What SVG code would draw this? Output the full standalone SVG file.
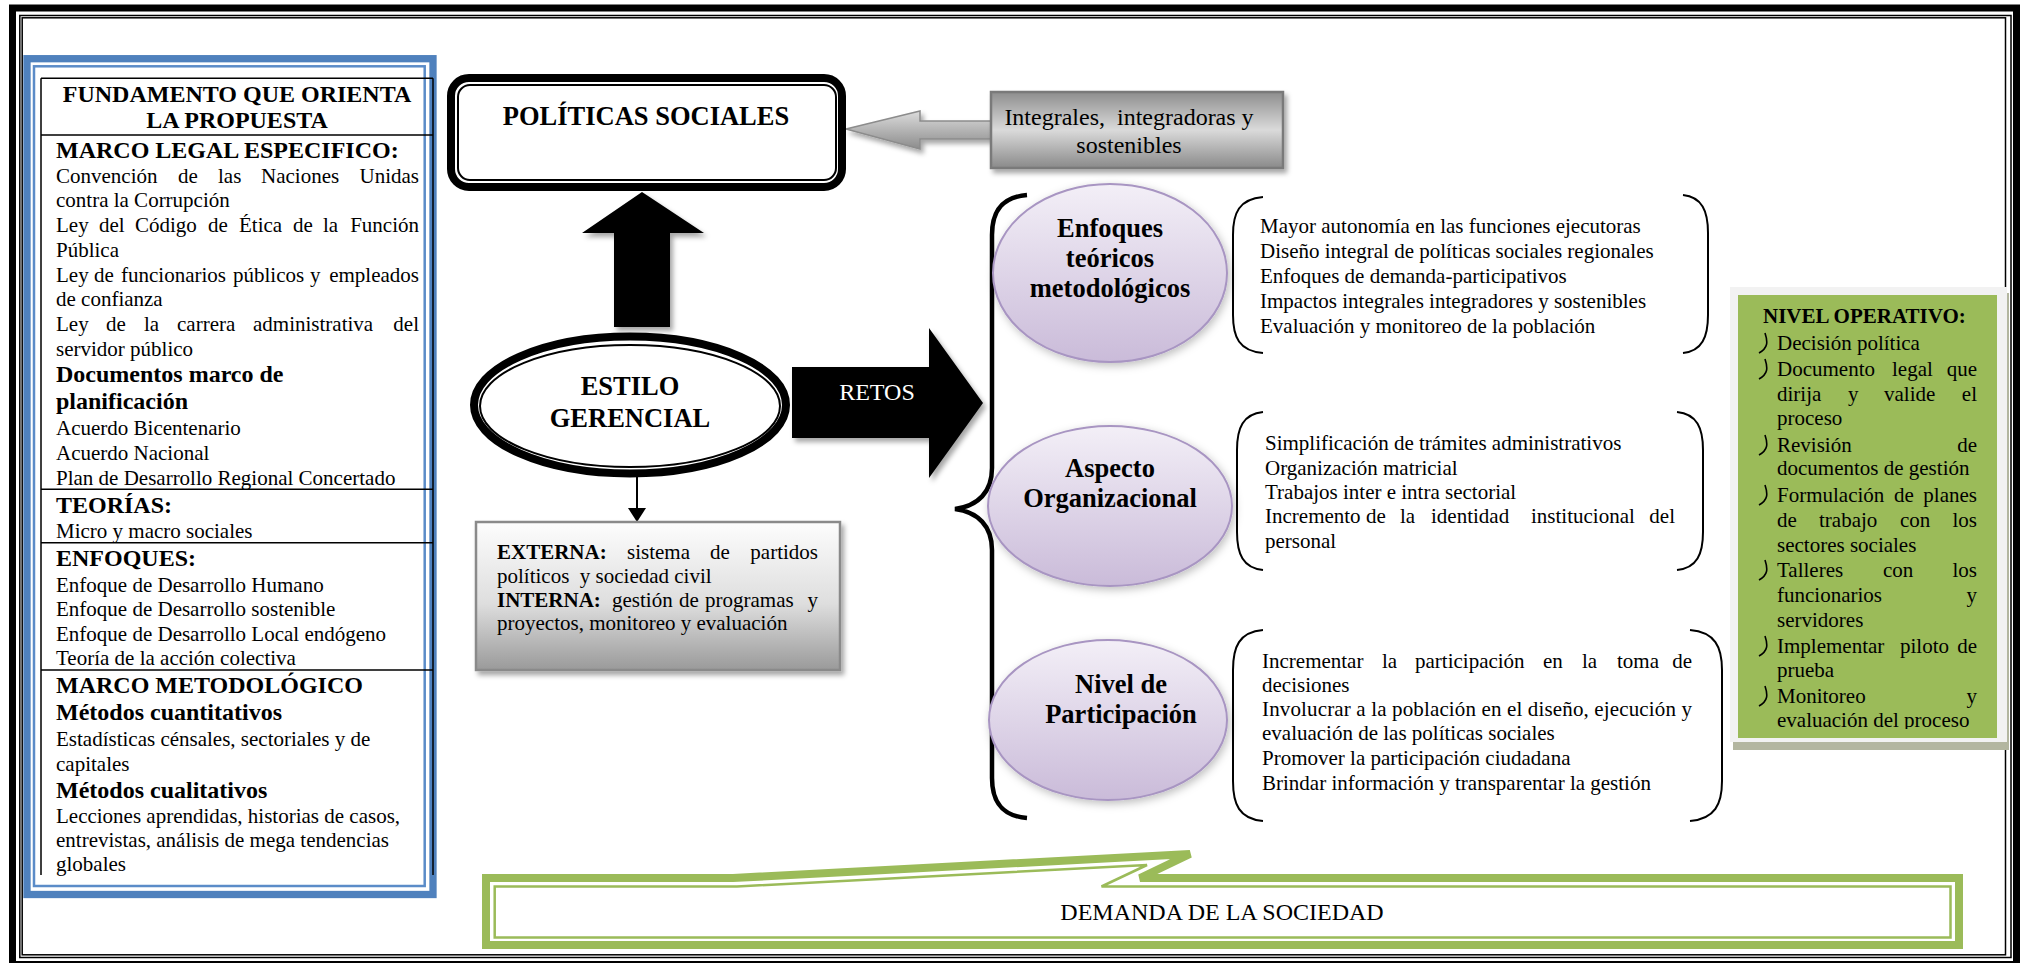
<svg xmlns="http://www.w3.org/2000/svg" width="2024" height="963" viewBox="0 0 2024 963">
<defs>
<style>
text{font-family:"Liberation Serif","Times New Roman",serif;fill:#000}
.b{font-weight:bold}
.r21{font-size:21px}
.b24{font-size:24px;font-weight:bold}
.r24{font-size:24px}
.h26{font-size:26.5px;font-weight:bold}
.c{text-anchor:middle}
.e{text-anchor:end}
.pre{white-space:pre}
.paren{fill:none;stroke:#000;stroke-width:2}
.ell{fill:url(#gPur);stroke:#a895c2;stroke-width:2;filter:url(#soft)}
.tl{stroke:#000;stroke-width:1.5;fill:none}
.bul{fill:none;stroke:#000;stroke-width:1.6}
</style>
<linearGradient id="gPur" x1="0" y1="0" x2="0" y2="1">
<stop offset="0" stop-color="#f3eff7"/><stop offset="1" stop-color="#cabbd9"/>
</linearGradient>
<linearGradient id="gBox" x1="0" y1="0" x2="0" y2="1">
<stop offset="0" stop-color="#8e8e8e"/><stop offset="0.5" stop-color="#dadada"/><stop offset="1" stop-color="#8a8a8a"/>
</linearGradient>
<linearGradient id="gArr" x1="0" y1="0" x2="0" y2="1">
<stop offset="0" stop-color="#dcdcdc"/><stop offset="1" stop-color="#8c8c8c"/>
</linearGradient>
<linearGradient id="gExt" x1="0" y1="0" x2="0" y2="1">
<stop offset="0" stop-color="#fdfdfd"/><stop offset="0.55" stop-color="#dedede"/><stop offset="1" stop-color="#9a9a9a"/>
</linearGradient>
<filter id="sh" x="-10%" y="-10%" width="130%" height="140%">
<feDropShadow dx="3" dy="4" stdDeviation="2.5" flood-color="#000" flood-opacity="0.35"/>
</filter>
<filter id="soft" x="-10%" y="-10%" width="125%" height="130%">
<feDropShadow dx="2" dy="3" stdDeviation="4" flood-color="#000" flood-opacity="0.25"/>
</filter>
<clipPath id="clipOp"><rect x="1738" y="295" width="259" height="434"/></clipPath>
</defs>
<rect width="2024" height="963" fill="#fff"/>

<g id="frame">
<rect x="12.5" y="8" width="2004" height="956.5" fill="none" stroke="#000" stroke-width="7"/>
<rect x="19.8" y="15.5" width="1991.2" height="942" fill="none" stroke="#000" stroke-width="1.5"/>
<rect x="22.2" y="17.8" width="1983.3" height="937" fill="none" stroke="#000" stroke-width="1.5"/>
</g>

<g id="fundamento">
<rect x="27" y="58.7" width="406" height="835.8" fill="#fff" stroke="#4f81bd" stroke-width="7.3"/>
<rect x="34" y="66.3" width="390.7" height="819.7" fill="none" stroke="#5b8cc8" stroke-width="2.5"/>
<path class="tl" d="M41,78.3H433M41,135H433M41,489.3H433M41,542.7H433M41,670H433M41,78.3V875M433,78.3V875"/>
<text class="b24 c" x="237" y="102">FUNDAMENTO QUE ORIENTA</text>
<text class="b24 c" x="237" y="128">LA PROPUESTA</text>
<text class="b24" x="56" y="158">MARCO LEGAL ESPECIFICO:</text>
<text class="r21" y="183"><tspan x="56">Convención</tspan><tspan x="178">de</tspan><tspan x="218">las</tspan><tspan x="261">Naciones</tspan></text>
<text class="r21 e" x="419" y="183">Unidas</text>
<text class="r21" x="56" y="207">contra la Corrupción</text>
<text class="r21" y="232"><tspan x="56">Ley</tspan><tspan x="99">del</tspan><tspan x="135">Código</tspan><tspan x="208">de</tspan><tspan x="239">Ética</tspan><tspan x="293">de</tspan><tspan x="323">la</tspan></text>
<text class="r21 e" x="419" y="232">Función</text>
<text class="r21" x="56" y="257">Pública</text>
<text class="r21" y="282"><tspan x="56">Ley</tspan><tspan x="94">de</tspan><tspan x="121">funcionarios</tspan><tspan x="233">públicos</tspan><tspan x="310">y</tspan></text>
<text class="r21 e" x="419" y="282">empleados</text>
<text class="r21" x="56" y="306">de confianza</text>
<text class="r21" y="331"><tspan x="56">Ley</tspan><tspan x="106">de</tspan><tspan x="144">la</tspan><tspan x="177">carrera</tspan><tspan x="253">administrativa</tspan></text>
<text class="r21 e" x="419" y="331">del</text>
<text class="r21" x="56" y="356">servidor público</text>
<text class="b24" x="56" y="382">Documentos marco de</text>
<text class="b24" x="56" y="409">planificación</text>
<text class="r21" x="56" y="435">Acuerdo Bicentenario</text>
<text class="r21" x="56" y="460">Acuerdo Nacional</text>
<text class="r21" x="56" y="485">Plan de Desarrollo Regional Concertado</text>
<text class="b24" x="56" y="513">TEORÍAS:</text>
<text class="r21" x="56" y="538">Micro y macro sociales</text>
<text class="b24" x="56" y="566">ENFOQUES:</text>
<text class="r21" x="56" y="592">Enfoque de Desarrollo Humano</text>
<text class="r21" x="56" y="616">Enfoque de Desarrollo sostenible</text>
<text class="r21" x="56" y="641">Enfoque de Desarrollo Local endógeno</text>
<text class="r21" x="56" y="665">Teoría de la acción colectiva</text>
<text class="b24" x="56" y="693">MARCO METODOLÓGICO</text>
<text class="b24" x="56" y="720">Métodos cuantitativos</text>
<text class="r21" x="56" y="746">Estadísticas cénsales, sectoriales y de</text>
<text class="r21" x="56" y="771">capitales</text>
<text class="b24" x="56" y="798">Métodos cualitativos</text>
<text class="r21" x="56" y="823">Lecciones aprendidas, historias de casos,</text>
<text class="r21" x="56" y="847">entrevistas, análisis de mega tendencias</text>
<text class="r21" x="56" y="871">globales</text>
</g>

<g id="connectors">
<polygon points="846,129 920,111 920,121 993,121 993,139 920,139 920,149" fill="url(#gArr)" stroke="#8c8c8c" stroke-width="1.5" filter="url(#sh)"/>
<polygon points="642,192 704,233 670,233 670,327 614,327 614,233 582,233" fill="#000" filter="url(#sh)"/>
<polygon points="792,367 929,367 929,328 983,403 929,478 929,438 792,438" fill="#000" filter="url(#sh)"/>
<line x1="637" y1="477" x2="637" y2="510" stroke="#000" stroke-width="2"/>
<polygon points="628,508 646,508 637,522" fill="#000"/>
<path d="M1027,195 C1003,197 992,210 992,235 L992,468 C992,492 978,506 955,509 C978,512 992,526 992,550 L992,778 C992,803 1003,816 1027,818" fill="none" stroke="#000" stroke-width="4.5"/>
</g>

<g id="politicas">
<rect x="451" y="78" width="391" height="109" rx="18" fill="#fff" stroke="#000" stroke-width="8"/>
<rect x="458" y="85" width="378" height="95" rx="12" fill="none" stroke="#000" stroke-width="2"/>
<text class="h26 c" x="646" y="125">POLÍTICAS SOCIALES</text>
</g>

<g id="integrales">
<rect x="991" y="92" width="292" height="76" fill="url(#gBox)" stroke="#7a7a7a" stroke-width="2.5" filter="url(#sh)"/>
<text class="r24 c pre" x="1129" y="125">Integrales,  integradoras y</text>
<text class="r24 c" x="1129" y="153">sostenibles</text>
</g>

<g id="estilo">
<ellipse cx="630" cy="405" rx="156" ry="68.5" fill="#fff" stroke="#000" stroke-width="8"/>
<ellipse cx="630" cy="406" rx="150" ry="61" fill="none" stroke="#000" stroke-width="2"/>
<text class="h26 c" x="630" y="395">ESTILO</text>
<text class="h26 c" x="630" y="427">GERENCIAL</text>
</g>

<g id="retos">
<text class="r24 c" x="877" y="400" style="fill:#fff">RETOS</text>
</g>

<g id="externa">
<rect x="476" y="522" width="364" height="148" fill="url(#gExt)" stroke="#8a8a8a" stroke-width="2.5" filter="url(#sh)"/>
<text class="r21" y="559"><tspan x="497" font-weight="bold">EXTERNA:</tspan><tspan x="627">sistema</tspan><tspan x="710">de</tspan></text>
<text class="r21 e" x="818" y="559">partidos</text>
<text class="r21 pre" x="497" y="583">políticos  y sociedad civil</text>
<text class="r21" y="607"><tspan x="497" font-weight="bold">INTERNA:</tspan><tspan x="612">gestión</tspan><tspan x="679">de</tspan><tspan x="705">programas</tspan></text>
<text class="r21 e" x="818" y="607">y</text>
<text class="r21" x="497" y="630">proyectos, monitoreo y evaluación</text>
</g>

<g id="enfoques">
<ellipse class="ell" cx="1110" cy="273" rx="117" ry="89"/>
<text class="h26 c" x="1110" y="237">Enfoques</text>
<text class="h26 c" x="1110" y="267">teóricos</text>
<text class="h26 c" x="1110" y="297">metodológicos</text>
</g>

<g id="enfoques-items">
<path class="paren" d="M1263,197 C1239,199 1233,213 1233,235 L1233,315 C1233,337 1239,351 1263,353"/>
<path class="paren" d="M1683,195 C1702,197 1708,211 1708,233 L1708,315 C1708,337 1702,351 1683,353"/>
<text class="r21" x="1260" y="233">Mayor autonomía en las funciones ejecutoras</text>
<text class="r21" x="1260" y="258">Diseño integral de políticas sociales regionales</text>
<text class="r21" x="1260" y="283">Enfoques de demanda-participativos</text>
<text class="r21" x="1260" y="308">Impactos integrales integradores y sostenibles</text>
<text class="r21" x="1260" y="333">Evaluación y monitoreo de la población</text>
</g>

<g id="aspecto">
<ellipse class="ell" cx="1110" cy="506" rx="122" ry="80"/>
<text class="h26 c" x="1110" y="477">Aspecto</text>
<text class="h26 c" x="1110" y="507">Organizacional</text>
</g>

<g id="aspecto-items">
<path class="paren" d="M1263,412 C1243,414 1237,428 1237,450 L1237,532 C1237,554 1243,568 1263,570"/>
<path class="paren" d="M1677,412 C1697,414 1703,428 1703,450 L1703,532 C1703,554 1697,568 1677,570"/>
<text class="r21" x="1265" y="450">Simplificación de trámites administrativos</text>
<text class="r21" x="1265" y="475">Organización matricial</text>
<text class="r21" x="1265" y="499">Trabajos inter e intra sectorial</text>
<text class="r21" y="523"><tspan x="1265">Incremento</tspan><tspan x="1366">de</tspan><tspan x="1400">la</tspan><tspan x="1431">identidad</tspan><tspan x="1531">institucional</tspan></text>
<text class="r21 e" x="1675" y="523">del</text>
<text class="r21" x="1265" y="548">personal</text>
</g>

<g id="nivel">
<ellipse class="ell" cx="1108" cy="720" rx="119" ry="80"/>
<text class="h26 c" x="1121" y="693">Nivel de</text>
<text class="h26 c" x="1121" y="723">Participación</text>
</g>

<g id="nivel-items">
<path class="paren" d="M1263,630 C1239,632 1233,647 1233,670 L1233,781 C1233,804 1239,819 1263,821"/>
<path class="paren" d="M1690,630 C1715,632 1722,647 1722,670 L1722,781 C1722,804 1715,819 1690,821"/>
<text class="r21" y="668"><tspan x="1262">Incrementar</tspan><tspan x="1382">la</tspan><tspan x="1415">participación</tspan><tspan x="1543">en</tspan><tspan x="1582">la</tspan><tspan x="1617">toma</tspan></text>
<text class="r21 e" x="1692" y="668">de</text>
<text class="r21" x="1262" y="692">decisiones</text>
<text class="r21" x="1262" y="716" textLength="430" lengthAdjust="spacing">Involucrar a la población en el diseño, ejecución y</text>
<text class="r21" x="1262" y="740">evaluación de las políticas sociales</text>
<text class="r21" x="1262" y="765">Promover la participación ciudadana</text>
<text class="r21" x="1262" y="790">Brindar información y transparentar la gestión</text>
</g>

<g id="nivel-operativo">
<rect x="1733" y="293" width="276" height="457" fill="#b3b6a0"/>
<rect x="1730" y="287" width="277" height="455" fill="#f2f2f2"/>
<rect x="1738" y="295" width="259" height="443" fill="#9bbb59"/>
<text class="r21 b" x="1763" y="323">NIVEL OPERATIVO:</text>
<path class="bul" d="M1765,333 C1768,342 1768,348 1759,353 M1765,359 C1768,368 1768,374 1759,379 M1765,435 C1768,444 1768,450 1759,455 M1765,485 C1768,494 1768,500 1759,505 M1765,560 C1768,569 1768,575 1759,580 M1765,636 C1768,645 1768,651 1759,656 M1765,686 C1768,695 1768,701 1759,706"/>
<g clip-path="url(#clipOp)">
<text class="r21" x="1777" y="350">Decisión política</text>
<text class="r21" y="376"><tspan x="1777">Documento</tspan><tspan x="1892">legal</tspan></text>
<text class="r21 e" x="1977" y="376">que</text>
<text class="r21" y="401"><tspan x="1777">dirija</tspan><tspan x="1848">y</tspan><tspan x="1884">valide</tspan></text>
<text class="r21 e" x="1977" y="401">el</text>
<text class="r21" x="1777" y="425">proceso</text>
<text class="r21" x="1777" y="452">Revisión</text>
<text class="r21 e" x="1977" y="452">de</text>
<text class="r21" x="1777" y="475">documentos de gestión</text>
<text class="r21" y="502"><tspan x="1777">Formulación</tspan><tspan x="1894">de</tspan></text>
<text class="r21 e" x="1977" y="502">planes</text>
<text class="r21" y="527"><tspan x="1777">de</tspan><tspan x="1819">trabajo</tspan><tspan x="1900">con</tspan></text>
<text class="r21 e" x="1977" y="527">los</text>
<text class="r21" x="1777" y="552">sectores sociales</text>
<text class="r21" y="577"><tspan x="1777">Talleres</tspan><tspan x="1883">con</tspan></text>
<text class="r21 e" x="1977" y="577">los</text>
<text class="r21" x="1777" y="602">funcionarios</text>
<text class="r21 e" x="1977" y="602">y</text>
<text class="r21" x="1777" y="627">servidores</text>
<text class="r21" y="653"><tspan x="1777">Implementar</tspan><tspan x="1900">piloto</tspan></text>
<text class="r21 e" x="1977" y="653">de</text>
<text class="r21" x="1777" y="677">prueba</text>
<text class="r21" x="1777" y="703">Monitoreo</text>
<text class="r21 e" x="1977" y="703">y</text>
<text class="r21" x="1777" y="727">evaluación del proceso</text>
</g>
</g>

<g id="demanda">
<path d="M486,878 L733,878 L1190,854 L1140,878 L1959,878 L1959,945 L486,945 Z" fill="#fff" stroke="#9bbb59" stroke-width="8"/>
<path d="M494.7,886.5 L737,886.5 L1147,865 L1101.5,886.5 L1950.5,886.5 L1950.5,937.5 L494.7,937.5 Z" fill="none" stroke="#9bbb59" stroke-width="2.5"/>
<text class="r24 c" x="1222" y="920">DEMANDA DE LA SOCIEDAD</text>
</g>
</svg>
